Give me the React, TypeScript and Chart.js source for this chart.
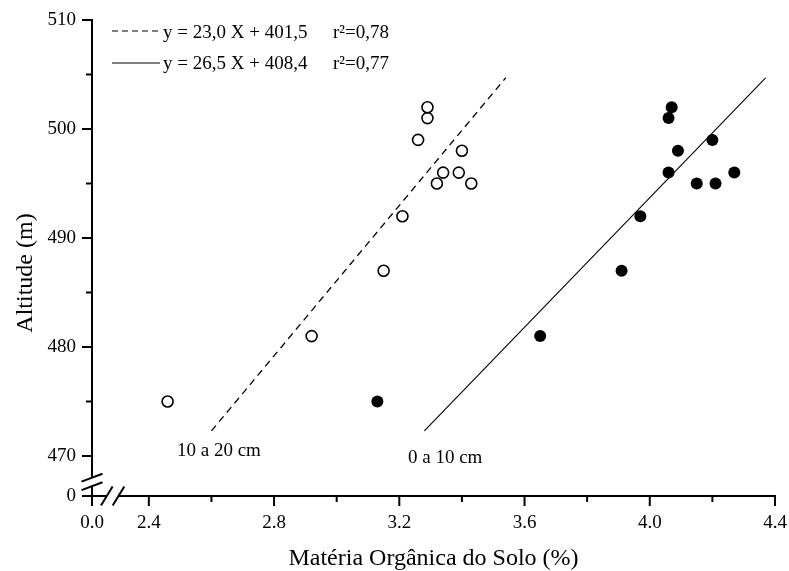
import React, { useEffect, useRef } from "react";
import { Chart, registerables } from "chart.js";

Chart.register(...registerables);

// ---- data ----
const OPEN_X = [2.46, 2.92, 3.15, 3.21, 3.32, 3.34, 3.39, 3.40, 3.43, 3.26, 3.29, 3.29];
const OPEN_Y = [475, 481, 487, 492, 495, 496, 496, 498, 495, 499, 501, 502];
const FILLED_X = [3.13, 3.65, 3.91, 3.97, 4.06, 4.09, 4.06, 4.07, 4.20, 4.15, 4.21, 4.27];
const FILLED_Y = [475, 481, 487, 492, 496, 498, 501, 502, 499, 495, 495, 496];
const DASHED_X = [2.60, 3.54];
const DASHED_Y = [472.3, 504.7];
const SOLID_X = [3.28, 4.37];
const SOLID_Y = [472.3, 504.7];

// broken axes: the "0.0" / "0" positions sit just before the break
const X_BREAK_POS = 2.2185; // position of the 0.0 tick
const Y_BREAK_POS = 466.33; // position of the 0 tick
const X_MAX = 4.4;
const Y_MAX = 510;
const X_TICKS = [X_BREAK_POS, 2.4, 2.6, 2.8, 3.0, 3.2, 3.4, 3.6, 3.8, 4.0, 4.2, 4.4];
const X_MAJOR = [2.4, 2.8, 3.2, 3.6, 4.0, 4.4];
const Y_TICKS = [Y_BREAK_POS, 470, 475, 480, 485, 490, 495, 500, 505, 510];
const Y_MAJOR = [470, 480, 490, 500, 510];

const LEGEND_EQ = ["y = 23,0 X + 401,5", "y = 26,5 X + 408,4"];
const LEGEND_R2 = ["r\u00B2=0,78", "r\u00B2=0,77"];
const DEPTH_LABELS = ["10 a 20 cm", "0 a 10 cm"];
const X_TITLE = "Matéria Orgânica do Solo (%)";
const Y_TITLE = "Altitude (m)";

const FONT = "'Liberation Serif', 'Times New Roman', serif";

const toPts = (xs: number[], ys: number[]) => xs.map((x, i) => ({ x, y: ys[i] }));
const near = (a: number, list: number[]) => list.some((v) => Math.abs(v - a) < 1e-6);

const axesPlugin = {
  id: "brokenAxes",
  afterDraw(chart: any) {
    const { ctx } = chart;
    const xs = chart.scales.x;
    const ys = chart.scales.y;
    const X0 = xs.getPixelForValue(X_BREAK_POS);
    const Y0 = ys.getPixelForValue(Y_BREAK_POS);
    const yTop = ys.getPixelForValue(Y_MAX);
    const xRight = xs.getPixelForValue(X_MAX);
    const MAJ = 10;
    const MIN = 6;
    ctx.save();
    ctx.strokeStyle = "#000";
    ctx.lineWidth = 2;
    ctx.lineCap = "butt";

    const yb1 = Y0 - 18.3;
    const yb2 = Y0 - 9.8;
    const xb1 = X0 + 14.8;
    const xb2 = X0 + 26.5;

    // y axis line (with gap)
    ctx.beginPath();
    ctx.moveTo(X0, yTop - 1);
    ctx.lineTo(X0, yb1);
    ctx.moveTo(X0, yb2);
    ctx.lineTo(X0, Y0 + MAJ);
    ctx.stroke();
    // x axis line (with gap)
    ctx.beginPath();
    ctx.moveTo(X0 - MAJ, Y0);
    ctx.lineTo(xb1, Y0);
    ctx.moveTo(xb2, Y0);
    ctx.lineTo(xRight + 1, Y0);
    ctx.stroke();

    Y_TICKS.forEach((v) => {
      if (v === Y_BREAK_POS) return;
      const p = ys.getPixelForValue(v);
      const len = near(v, Y_MAJOR) ? MAJ : MIN;
      ctx.beginPath();
      ctx.moveTo(X0 - len, p);
      ctx.lineTo(X0, p);
      ctx.stroke();
    });
    X_TICKS.forEach((v) => {
      if (v === X_BREAK_POS) return;
      const p = xs.getPixelForValue(v);
      const len = near(v, X_MAJOR) ? MAJ : MIN;
      ctx.beginPath();
      ctx.moveTo(p, Y0);
      ctx.lineTo(p, Y0 + len);
      ctx.stroke();
    });

    // break slashes
    [yb1, yb2].forEach((c) => {
      ctx.beginPath();
      ctx.moveTo(X0 - 10.5, c + 3.9);
      ctx.lineTo(X0 + 10.5, c - 3.9);
      ctx.stroke();
    });
    [xb1, xb2].forEach((c) => {
      ctx.beginPath();
      ctx.moveTo(c - 5.8, Y0 + 9.5);
      ctx.lineTo(c + 5.8, Y0 - 9.5);
      ctx.stroke();
    });

    // legend
    ctx.fillStyle = "#000";
    ctx.font = `19px ${FONT}`;
    ctx.textBaseline = "alphabetic";
    ctx.textAlign = "left";
    const rows = [31, 63];
    const baselines = [37.5, 69];
    rows.forEach((ry, i) => {
      ctx.beginPath();
      ctx.lineWidth = 1.2;
      ctx.setLineDash(i === 0 ? [6, 4] : []);
      ctx.moveTo(112, ry);
      ctx.lineTo(160, ry);
      ctx.stroke();
      ctx.setLineDash([]);
      ctx.fillText(LEGEND_EQ[i], 163, baselines[i]);
      ctx.fillText(LEGEND_R2[i], 333, baselines[i]);
    });

    // depth labels
    ctx.fillText(DEPTH_LABELS[0], 177, 456);
    ctx.fillText(DEPTH_LABELS[1], 408, 463);

    // axis titles
    ctx.font = `24px ${FONT}`;
    ctx.textAlign = "center";
    ctx.fillText(X_TITLE, (X0 + xRight) / 2, 565);
    ctx.save();
    ctx.translate(31.5, 273);
    ctx.rotate(-Math.PI / 2);
    ctx.fillText(Y_TITLE, 0, 0);
    ctx.restore();

    ctx.restore();
  },
};

const zeroPad = (s: any) => {
  s.paddingTop = 0;
  s.paddingBottom = 0;
  s.paddingLeft = 0;
  s.paddingRight = 0;
};

export default function App() {
  const ref = useRef<HTMLCanvasElement | null>(null);
  useEffect(() => {
    if (!ref.current) return;
    const chart = new Chart(ref.current, {
      type: "scatter",
      data: {
        datasets: [
          {
            type: "line",
            label: "reg 10-20",
            data: toPts(DASHED_X, DASHED_Y),
            borderColor: "#000",
            borderWidth: 1.3,
            borderDash: [7, 5],
            pointRadius: 0,
            fill: false,
            order: 3,
          } as any,
          {
            type: "line",
            label: "reg 0-10",
            data: toPts(SOLID_X, SOLID_Y),
            borderColor: "#000",
            borderWidth: 1.1,
            pointRadius: 0,
            fill: false,
            order: 3,
          } as any,
          {
            label: "10 a 20 cm",
            data: toPts(OPEN_X, OPEN_Y),
            pointRadius: 5.5,
            pointBorderWidth: 1.6,
            pointBackgroundColor: "#fff",
            pointBorderColor: "#000",
            order: 1,
          },
          {
            label: "0 a 10 cm",
            data: toPts(FILLED_X, FILLED_Y),
            pointRadius: 6,
            pointBorderWidth: 0,
            pointBackgroundColor: "#000",
            pointBorderColor: "#000",
            order: 1,
          },
        ],
      },
      options: {
        animation: false,
        responsive: false,
        devicePixelRatio: 1,
        layout: { padding: { top: 20, right: 14, left: 0, bottom: 0 } },
        plugins: { legend: { display: false }, tooltip: { enabled: false } },
        scales: {
          x: {
            type: "linear",
            min: X_BREAK_POS,
            max: X_MAX,
            grid: { display: false, drawTicks: false },
            border: { display: false },
            afterBuildTicks: (s: any) => {
              s.ticks = X_TICKS.map((v) => ({ value: v }));
            },
            afterFit: (s: any) => {
              s.height = 75;
              zeroPad(s);
            },
            ticks: {
              autoSkip: false,
              maxRotation: 0,
              padding: 16,
              color: "#000",
              font: { family: FONT, size: 19 },
              callback: (v: any) => {
                const n = Number(v);
                if (Math.abs(n - X_BREAK_POS) < 1e-6) return "0.0";
                return near(n, X_MAJOR) ? n.toFixed(1) : "";
              },
            },
          },
          y: {
            type: "linear",
            min: Y_BREAK_POS,
            max: Y_MAX,
            grid: { display: false, drawTicks: false },
            border: { display: false },
            afterBuildTicks: (s: any) => {
              s.ticks = Y_TICKS.map((v) => ({ value: v }));
            },
            afterFit: (s: any) => {
              s.width = 92;
              zeroPad(s);
            },
            ticks: {
              autoSkip: false,
              padding: 16,
              color: "#000",
              font: { family: FONT, size: 19 },
              callback: (v: any) => {
                const n = Number(v);
                if (Math.abs(n - Y_BREAK_POS) < 1e-6) return "0";
                return near(n, Y_MAJOR) ? String(Math.round(n)) : "";
              },
            },
          },
        },
      } as any,
      plugins: [axesPlugin],
    });
    return () => chart.destroy();
  }, []);
  return (
    <div style={{ position: "absolute", left: 0, top: 0, width: 789, height: 571, background: "#fff" }}>
      <canvas ref={ref} width={789} height={571} style={{ display: "block" }} />
    </div>
  );
}
